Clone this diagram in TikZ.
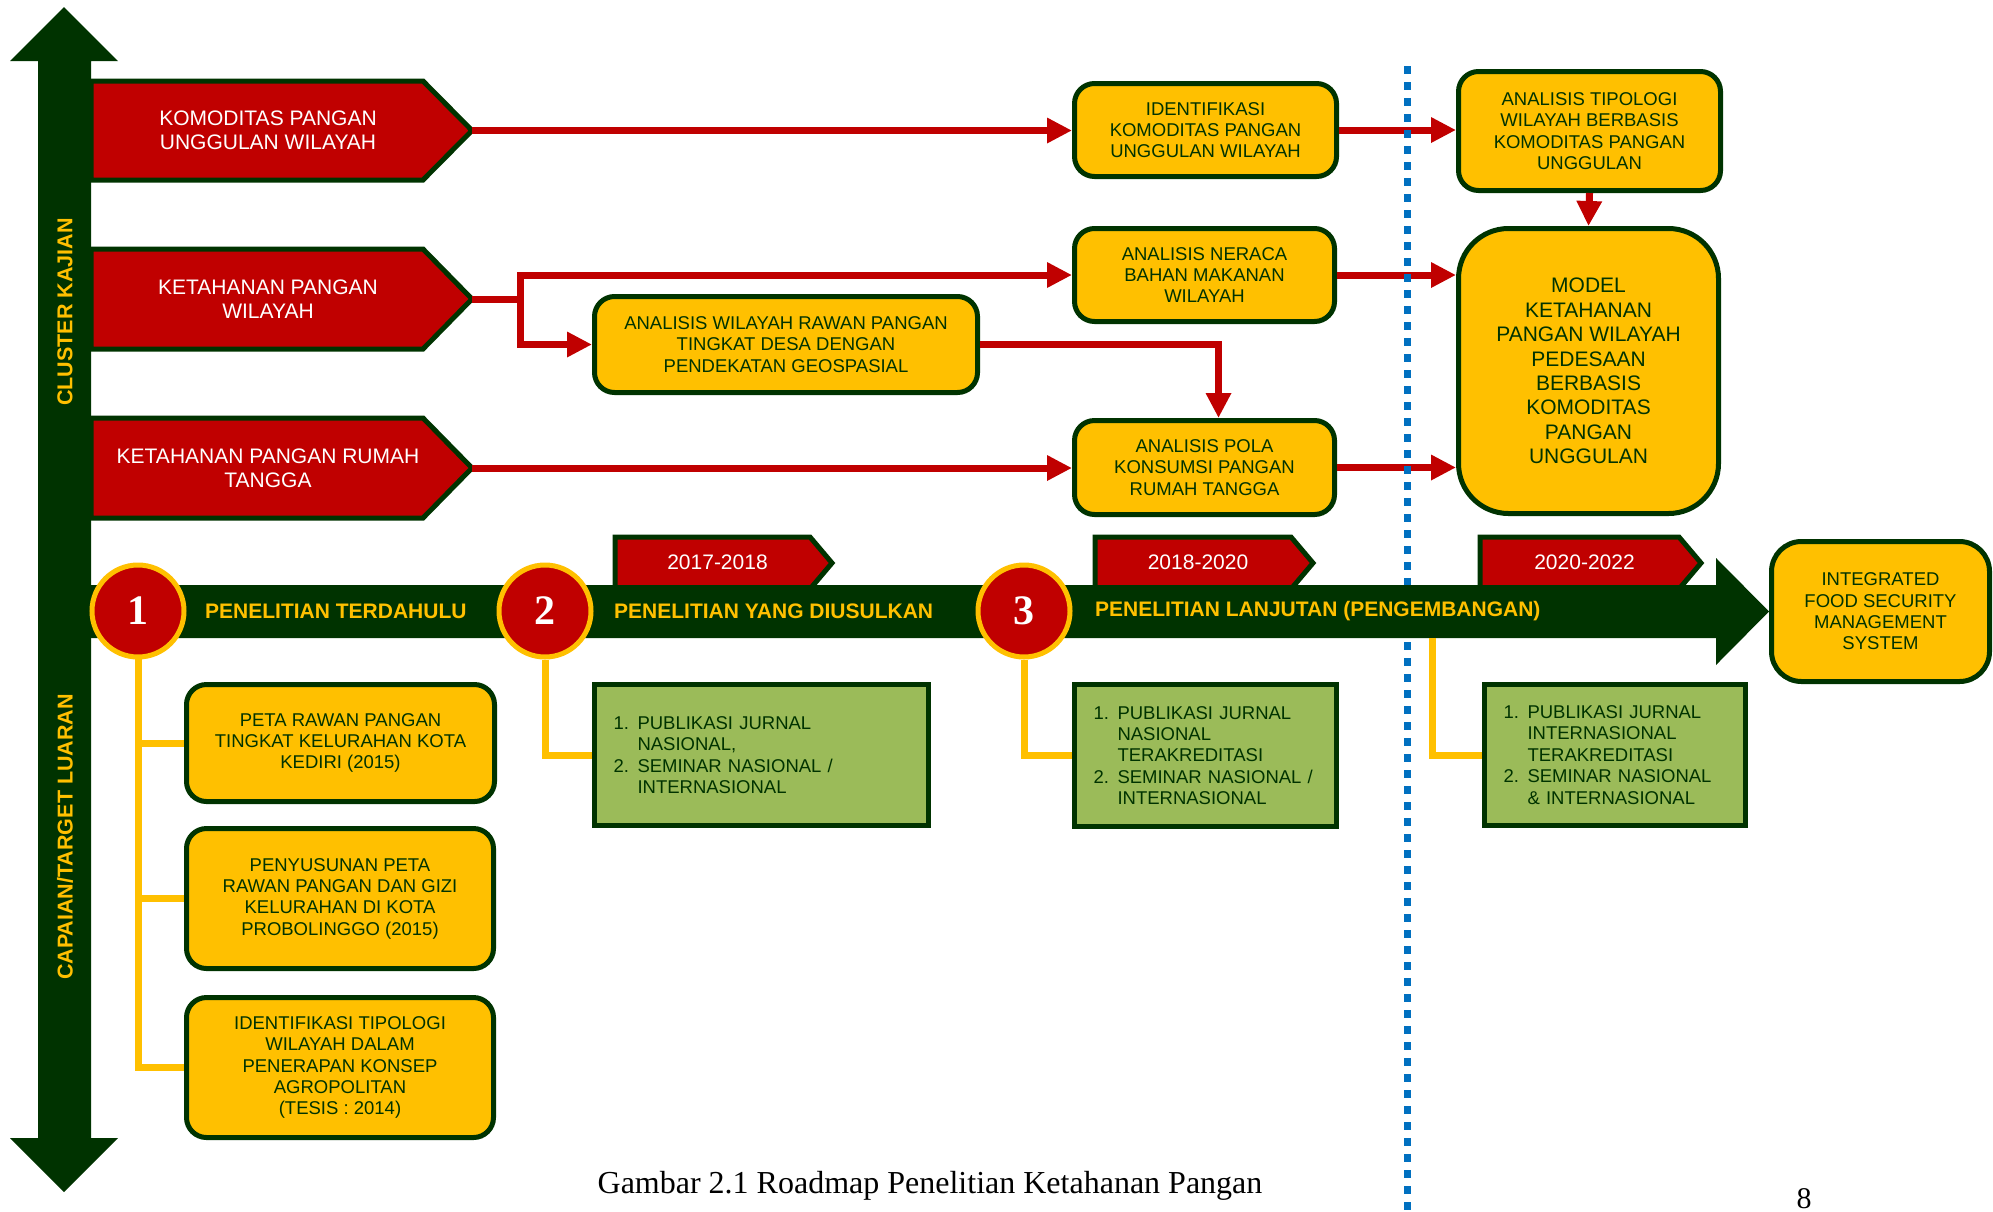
\documentclass[tikz,border=0pt]{standalone}
\usepackage{fontspec}
\setmainfont{Liberation Sans}
\newfontfamily\capfont{Liberation Serif}
\usetikzlibrary{arrows.meta}
\definecolor{kred}{RGB}{192,0,0}
\definecolor{kgreen}{RGB}{0,51,0}
\definecolor{kyellow}{RGB}{255,192,0}
\definecolor{kolive}{RGB}{155,187,89}
\definecolor{kblue}{RGB}{0,112,192}
\tikzset{
  bandline/.style={fill=kred,draw=kgreen,line width=5pt},
  bandfont/.style={text=white,align=center,inner sep=0pt,font=\fontsize{21}{24}\selectfont},
  ybox/.style={fill=kyellow,draw=kgreen,line width=5pt,rounded corners=20pt,align=center,
    text=kgreen,inner sep=0pt,font=\fontsize{18.5}{21.3}\selectfont},
  gbox/.style={fill=kolive,draw=kgreen,line width=5pt,align=left,text=kgreen,
    inner xsep=19pt,inner ysep=0pt,font=\fontsize{18.5}{21.4}\selectfont},
  rarrow/.style={draw=kred,line width=7pt,-{Triangle[length=25pt,width=24pt]}},
  ylink/.style={draw=kyellow,line width=7pt},
  bluedots/.style={draw=kblue,line width=7pt,dash pattern=on 8pt off 8pt},
  numcirc/.style={circle,fill=kred,draw=kyellow,line width=5pt,minimum size=92pt,inner sep=0pt,
    text=white,font=\capfont\bfseries\fontsize{42}{42}\selectfont},
  phasefont/.style={anchor=west,inner sep=0pt,text=kyellow,font=\bfseries\fontsize{21}{24}\selectfont},
  sidefont/.style={rotate=90,inner sep=0pt,text=kyellow,font=\bfseries\fontsize{21.5}{24}\selectfont},
}
\newcommand{\kband}[4]{%
  \draw[bandline] (91,#2) -- (423,#2) -- (472,{(#2+#3)/2}) -- (423,#3) -- (91,#3) -- cycle;
  \coordinate (#1) at (472,{(#2+#3)/2});
  \node[bandfont] (#1-txt) at (268,{(#2+#3)/2}) {#4};}
\newcommand{\yband}[4]{%
  \draw[bandline] (#2,537) -- ({#3-22},537) -- (#3,563) -- ({#3-22},589) -- (#2,589) -- cycle;
  \node[bandfont] (#1) at ({(#2+#3)/2-6},562) {#4};}
\newcommand{\litem}[2]{\makebox[24pt][l]{#1}#2}
\newcommand{\lcont}[1]{\hspace*{24pt}#1}

\begin{document}
\begin{tikzpicture}[x=1pt,y=-1pt]
  \useasboundingbox (0,0) rectangle (1993,1211);
  \fill[kgreen] (38,61) -- (10,61) -- (64,7) -- (118,61) -- (91,61) -- (91,1138) -- (118,1138)
    -- (64,1192) -- (10,1138) -- (38,1138) -- cycle;
  \node[sidefont] (cluster) at (65,312) {CLUSTER KAJIAN};
  \node[sidefont] (target) at (65,837) {CAPAIAN/TARGET LUARAN};

  \kband{kpu}{81}{180}{KOMODITAS PANGAN\\UNGGULAN WILAYAH}
  \kband{kpw}{249}{349}{KETAHANAN PANGAN\\WILAYAH}
  \kband{kpr}{418}{518}{KETAHANAN PANGAN RUMAH\\TANGGA}

  \node[ybox,minimum width=262pt,minimum height=93pt] (idk) at (1205.5,130)
    {IDENTIFIKASI\\KOMODITAS PANGAN\\UNGGULAN WILAYAH};
  \node[ybox,minimum width=260pt,minimum height=93pt] (nbm) at (1204.5,275)
    {ANALISIS NERACA\\BAHAN MAKANAN\\WILAYAH};
  \node[ybox,minimum width=383pt,minimum height=96pt] (awr) at (786,344.5)
    {ANALISIS WILAYAH RAWAN PANGAN\\TINGKAT DESA DENGAN\\PENDEKATAN GEOSPASIAL};
  \node[ybox,minimum width=260pt,minimum height=94pt] (pkp) at (1204.5,467.5)
    {ANALISIS POLA\\KONSUMSI PANGAN\\RUMAH TANGGA};
  \node[ybox,minimum width=262pt,minimum height=119pt] (tip) at (1589.5,131)
    {ANALISIS TIPOLOGI\\WILAYAH BERBASIS\\KOMODITAS PANGAN\\UNGGULAN};
  \node[ybox,rounded corners=50pt,minimum width=260pt,minimum height=285pt,
    font=\fontsize{21}{24.4}\selectfont] (model) at (1588.5,371)
    {MODEL\\KETAHANAN\\PANGAN WILAYAH\\PEDESAAN\\BERBASIS\\KOMODITAS\\PANGAN\\UNGGULAN};

  \draw[rarrow] (kpu) -- (kpu -| idk.west);
  \draw[rarrow] (kpw) -- ++(48,0) |- (nbm.west);
  \draw[rarrow] (kpw) -- ++(48,0) |- (awr.west);
  \draw[rarrow] (awr.east) -| ([xshift=14pt]pkp.north);
  \draw[rarrow] (kpr) -- (kpr -| pkp.west);
  \draw[rarrow] (idk.east) -- (idk.east -| tip.west);
  \draw[rarrow] (nbm.east) -- (nbm.east -| model.west);
  \draw[rarrow] (pkp.east) -- (pkp.east -| model.west);
  \draw[rarrow] (tip.south) -- (model.north);

  \draw[bluedots] (1407,66) -- (1407,1211);

  \yband{y1}{615}{832}{2017-2018}
  \yband{y2}{1095}{1313}{2018-2020}
  \yband{y3}{1480}{1701}{2020-2022}

  \fill[kgreen] (91,585) -- (1716,585) -- (1716,558) -- (1769,611.5) -- (1716,665) -- (1716,638)
    -- (91,638) -- cycle;
  \coordinate (fork) at (1432,638);
  \node[ybox,rounded corners=30pt,minimum width=218pt,minimum height=140pt] (ifsms) at (1880.5,611.5)
    {INTEGRATED\\FOOD SECURITY\\MANAGEMENT\\SYSTEM};

  \node[ybox,minimum width=308pt,minimum height=117pt] (prp) at (340.5,743)
    {PETA RAWAN PANGAN\\TINGKAT KELURAHAN KOTA\\KEDIRI (2015)};
  \node[ybox,minimum width=307pt,minimum height=140pt] (ppr) at (340,898.5)
    {PENYUSUNAN PETA\\RAWAN PANGAN DAN GIZI\\KELURAHAN DI KOTA\\PROBOLINGGO (2015)};
  \node[ybox,minimum width=307pt,minimum height=140pt] (itw) at (340,1067.5)
    {IDENTIFIKASI TIPOLOGI\\WILAYAH DALAM\\PENERAPAN KONSEP\\AGROPOLITAN\\(TESIS : 2014)};
  \node[gbox,text width=296pt,minimum height=141pt] (out2) at (761.5,755)
    {\litem{1.}{PUBLIKASI JURNAL}\\\lcont{NASIONAL,}\\\litem{2.}{SEMINAR NASIONAL /}\\\lcont{INTERNASIONAL}};
  \node[gbox,text width=224pt,minimum height=142pt] (out3) at (1205.5,755.5)
    {\litem{1.}{PUBLIKASI JURNAL}\\\lcont{NASIONAL}\\\lcont{TERAKREDITASI}\\\litem{2.}{SEMINAR NASIONAL /}\\\lcont{INTERNASIONAL}};
  \node[gbox,text width=223pt,minimum height=141pt] (out4) at (1615,755)
    {\litem{1.}{PUBLIKASI JURNAL}\\\lcont{INTERNASIONAL}\\\lcont{TERAKREDITASI}\\\litem{2.}{SEMINAR NASIONAL}\\\lcont{\& INTERNASIONAL}};

  \coordinate (c1pos) at (138,611);
  \draw[ylink] (c1pos) |- (itw.west);
  \draw[ylink] (c1pos |- prp.west) -- (prp.west);
  \draw[ylink] (c1pos |- ppr.west) -- (ppr.west);
  \node[numcirc] (c1) at (c1pos) {1};
  \node[numcirc] (c2) at (545,611) {2};
  \node[numcirc] (c3) at (1024,611) {3};
  \draw[ylink] (c2.south) |- (out2.west);
  \draw[ylink] (c3.south) |- (out3.west);
  \draw[ylink] (fork) |- (out4.west);
  \node[phasefont] (ph1) at (205,611) {PENELITIAN TERDAHULU};
  \node[phasefont] (ph2) at (614,611) {PENELITIAN YANG DIUSULKAN};
  \node[phasefont] (ph3) at (1095,611) {PENELITIAN LANJUTAN (PENGEMBANGAN)};

  \node[anchor=base,inner sep=0pt,font=\capfont\fontsize{32}{36}\selectfont] (caption) at (930,1193)
    {Gambar 2.1 Roadmap Penelitian Ketahanan Pangan};
  \node[anchor=base,inner sep=0pt,font=\capfont\fontsize{30}{34}\selectfont] (pagenum) at (1804,1208) {8};
\end{tikzpicture}
\end{document}
